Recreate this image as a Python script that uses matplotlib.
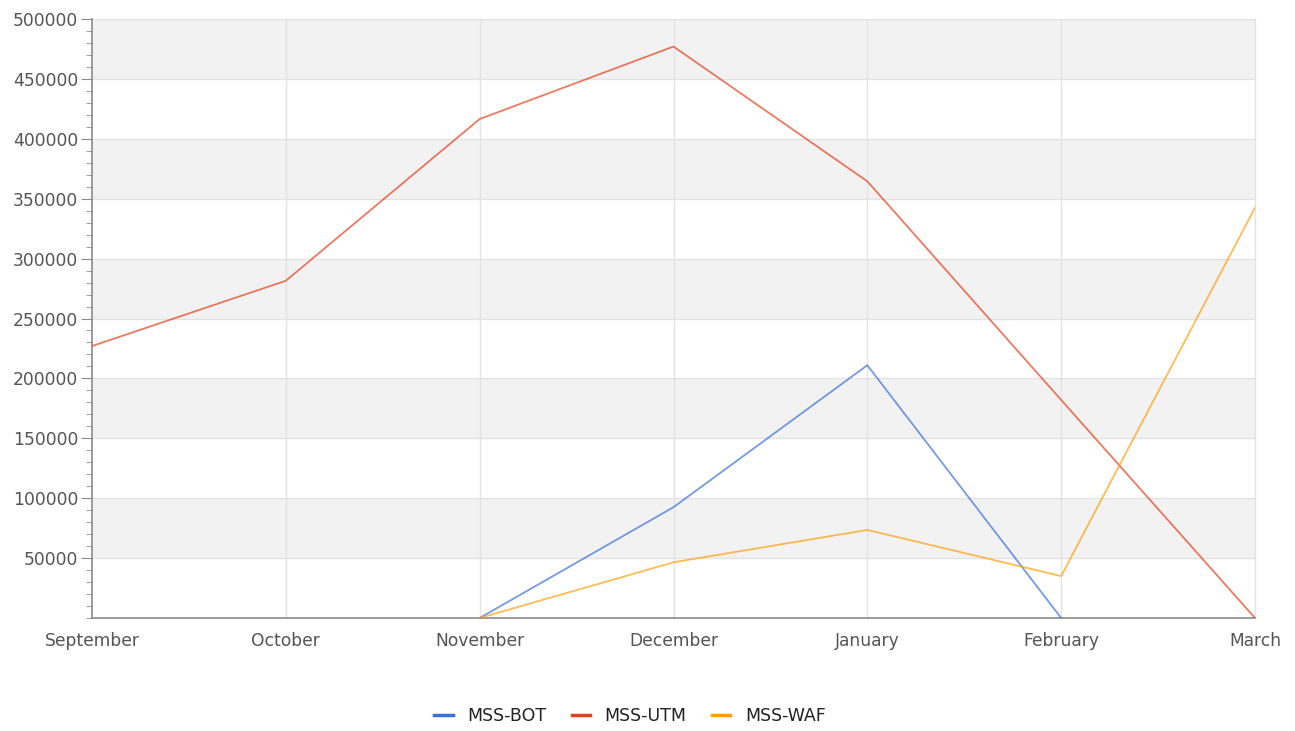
import matplotlib
matplotlib.use("Agg")
import matplotlib.pyplot as plt
from matplotlib.ticker import MultipleLocator
import numpy as np

months = ["September", "October", "November", "December", "January", "February", "March"]
mss_bot = [None, None, 0, 92500, 211000, 0, None]
mss_utm = [227000, 281500, 416500, 477000, 364500, 182000, 0]
mss_waf = [None, None, 0, 46500, 73500, 35000, 342500]

series = [("MSS-BOT", mss_bot, "#3b6fd9"),
          ("MSS-UTM", mss_utm, "#e0421d"),
          ("MSS-WAF", mss_waf, "#ff9f0a")]

fig = plt.figure(figsize=(12.95, 7.31), dpi=100)
ax = fig.add_axes([92/1295, (731-618)/731, (1255-92)/1295, (618-19)/731])

x = np.arange(len(months))
# alternating bands
for lo in range(50000, 500000, 100000):
    ax.axhspan(lo, lo + 50000, color="#f2f2f2", zorder=0, lw=0)
for yv in range(50000, 500001, 50000):
    ax.axhline(yv, color="#e3e3e3", lw=1, zorder=1)
for xv in x[1:]:
    ax.axvline(xv, color="#e3e3e3", lw=1, zorder=1, clip_on=False)

for name, vals, col in series:
    y = np.array([np.nan if v is None else v for v in vals], dtype=float)
    ax.plot(x, y, color=col, lw=1.3, alpha=0.7, zorder=3)
    ax.plot([], [], color=col, lw=2.5, label=name)

ax.set_xlim(0, len(months) - 1)
ax.set_ylim(0, 500000)
ax.set_xticks(x)
ax.set_xticklabels(months)
ax.yaxis.set_minor_locator(MultipleLocator(10000))
ax.set_yticks([50000 * i for i in range(1, 11)])
ax.set_yticklabels([str(50000 * i) for i in range(1, 11)])

for s in ["top", "right"]:
    ax.spines[s].set_visible(False)
ax.spines["left"].set_color("#8a8a8a")
ax.spines["bottom"].set_color("#8a8a8a")
ax.spines["left"].set_linewidth(1.2)
ax.spines["bottom"].set_linewidth(1.2)
ax.tick_params(axis="y", which="major", length=8, color="#8a8a8a", labelsize=12.3, labelcolor="#555555", pad=2)
ax.tick_params(axis="y", which="minor", length=4, color="#8a8a8a")
ax.tick_params(axis="x", length=0, labelsize=12.3, labelcolor="#555555", pad=10)

leg = fig.legend(loc="center", bbox_to_anchor=(630/1295, 1 - 716/731), ncol=3, frameon=False,
                 fontsize=12.5, handlelength=1.05, columnspacing=1.45, handletextpad=0.85)
for t in leg.get_texts():
    t.set_color("#222222")

fig.savefig("out.png", dpi=100)
